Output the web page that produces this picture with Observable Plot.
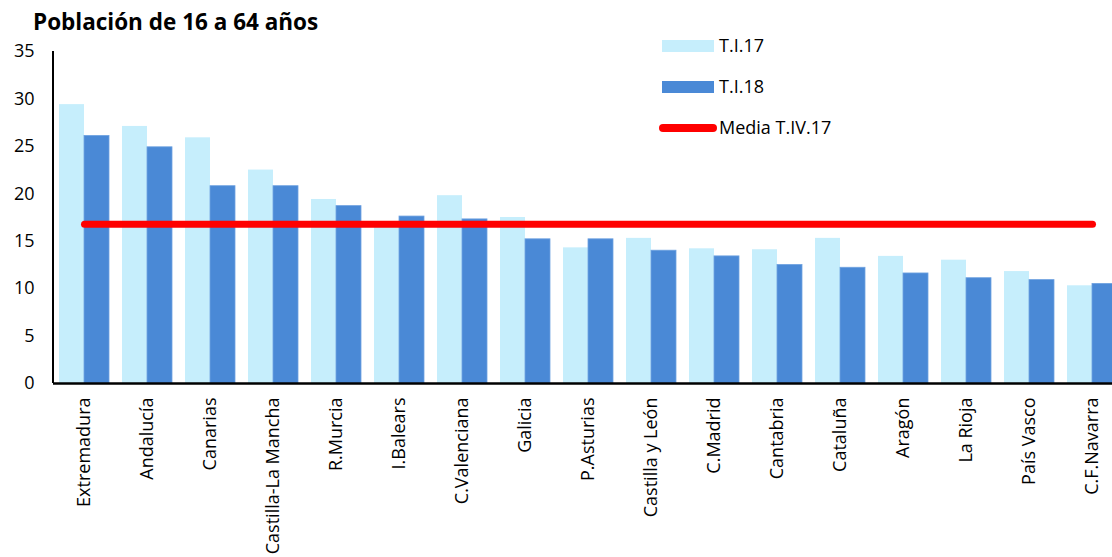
<!DOCTYPE html>
<html>
<head>
<meta charset="utf-8">
<script src="https://cdn.jsdelivr.net/npm/d3@7"></script>
<script src="https://cdn.jsdelivr.net/npm/@observablehq/plot@0.6"></script>
<style>
  html, body { margin: 0; padding: 0; background: white; overflow: hidden; }
  #wrap { position: relative; width: 1112px; height: 557px; overflow: hidden; font-family: "Open Sans", sans-serif; color: #000; }
  #title { position: absolute; left: 33px; top: 11px; font-size: 22.5px; line-height: 1; font-weight: bold; white-space: nowrap; }
  .lg { position: absolute; font-size: 18px; white-space: nowrap; line-height: 1; }
  .sw { position: absolute; }
</style>
</head>
<body>
<div id="wrap">
  <div id="chart"></div>
  <div id="title">Población de 16 a 64 años</div>
  <div class="sw" id="sw1" style="left:662px; top:40px; width:52px; height:12px;"></div>
  <div class="lg" style="left:719px; top:36px;">T.I.17</div>
  <div class="sw" id="sw2" style="left:662px; top:81px; width:52px; height:12px;"></div>
  <div class="lg" style="left:719px; top:77px;">T.I.18</div>
  <div class="sw" id="sw3" style="left:659px; top:124px; width:58px; height:8px; border-radius:4px;"></div>
  <div class="lg" style="left:719px; top:118px;">Media T.IV.17</div>
</div>
<script>
const regions = ["Extremadura","Andalucía","Canarias","Castilla-La Mancha","R.Murcia","I.Balears","C.Valenciana","Galicia","P.Asturias","Castilla y León","C.Madrid","Cantabria","Cataluña","Aragón","La Rioja","País Vasco","C.F.Navarra"];
const t17 = [29.4,27.1,25.9,22.5,19.4,16.8,19.8,17.5,14.3,15.3,14.2,14.1,15.3,13.4,13.0,11.8,10.3];
const t18 = [26.1,24.9,20.8,20.8,18.7,17.6,17.3,15.2,15.2,14.0,13.4,12.5,12.2,11.6,11.1,10.9,10.5];
const mediaT4_17 = 16.8;
const yTicks = [0,5,10,15,20,25,30,35];

const colLight = "#c6eefc";
const colDark = "#4a89d6";
const colRed = "#ff0000";
document.getElementById("sw1").style.background = colLight;
document.getElementById("sw2").style.background = colDark;
document.getElementById("sw3").style.background = colRed;

const rows = regions.map((r, i) => ({region: r, t17: t17[i], t18: t18[i], media: mediaT4_17}));

const chart = Plot.plot({
  width: 1112,
  height: 557,
  marginTop: 51,
  marginBottom: 174,
  marginLeft: 53,
  marginRight: 0,
  style: {fontFamily: "Open Sans, sans-serif", fontSize: "18px", color: "#000", background: "white", overflow: "hidden"},
  x: {domain: regions, range: [52.5, 1123.5], paddingInner: 0.2063, paddingOuter: 0.1032, round: false, label: null},
  y: {domain: [0, 35], ticks: yTicks, label: null},
  marks: [
    Plot.barY(rows, {x: "region", y: "t17", fill: colLight, insetRight: 25}),
    Plot.barY(rows, {x: "region", y: "t18", fill: colDark, stroke: "#6fa2e0", strokeWidth: 0.8, insetLeft: 25}),
    Plot.ruleY([0], {stroke: "#000", strokeWidth: 2.5}),
    Plot.line(rows, {x: "region", y: "media", stroke: colRed, strokeWidth: 7, strokeLinecap: "round"}),
    Plot.axisY({ticks: yTicks, tickSize: 0, tickPadding: 19, label: null}),
    Plot.ruleX([0], {x: () => regions[0], dx: -31.5, y1: 0, y2: 35, stroke: "#000", strokeWidth: 2}),
    Plot.axisX({tickSize: 0, tickPadding: 14, tickRotate: -90, label: null})
  ]
});
document.getElementById("chart").appendChild(chart);
</script>
</body>
</html>
